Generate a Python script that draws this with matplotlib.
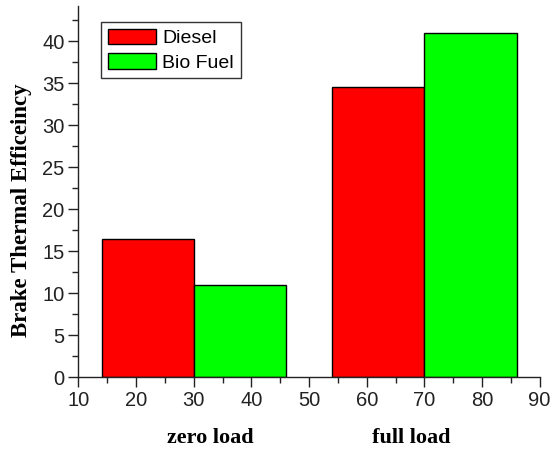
import matplotlib.pyplot as plt
import numpy as np
from matplotlib.ticker import MultipleLocator

# data
groups = ["zero load", "full load"]
group_left = [14, 54]          # left edge of the Diesel bar in each group
bar_width = 16
diesel = [16.5, 34.6]
bio_fuel = [11.0, 41.0]
series_names = ["Diesel", "Bio Fuel"]
series_colors = ["#FF0000", "#00FF00"]
group_label_x = [32.8, 67.7]

plt.rcParams["font.family"] = ["Liberation Sans", "DejaVu Sans"]

fig = plt.figure(figsize=(5.5, 4.5), dpi=100)
ax = fig.add_axes([0.1427, 0.1616, 0.8385, 0.825])

left = np.array(group_left, dtype=float)
ax.bar(left, diesel, width=bar_width, align="edge", color=series_colors[0],
       edgecolor="black", linewidth=1.0, label=series_names[0])
ax.bar(left + bar_width, bio_fuel, width=bar_width, align="edge", color=series_colors[1],
       edgecolor="black", linewidth=1.0, label=series_names[1])

ax.set_xlim(10, 90)
ax.set_ylim(0, 44.2)
ax.xaxis.set_major_locator(MultipleLocator(10))
ax.xaxis.set_minor_locator(MultipleLocator(5))
ax.yaxis.set_major_locator(MultipleLocator(5))
ax.yaxis.set_minor_locator(MultipleLocator(2.5))

for side in ["top", "right"]:
    ax.spines[side].set_visible(False)
for side in ["left", "bottom"]:
    ax.spines[side].set_color("#222222")
    ax.spines[side].set_linewidth(1.0)

ax.tick_params(axis="both", which="major", direction="out", length=7, width=1,
               labelsize=14.5, colors="#222222", pad=3)
ax.tick_params(axis="both", which="minor", direction="out", length=4, width=1,
               colors="#222222")

ax.set_ylabel("Brake Thermal Efficeincy", family=["Liberation Serif"], fontweight="bold",
              fontsize=16.5)
ax.yaxis.set_label_coords(-0.101, 0.45)
for name, gx in zip(groups, group_label_x):
    ax.text(gx, -0.1365, name, transform=ax.get_xaxis_transform(), ha="center", va="top",
            family=["Liberation Serif"], fontweight="bold", fontsize=16)

leg = ax.legend(loc="upper left", bbox_to_anchor=(0.0488, 0.957), fontsize=14,
                frameon=True, fancybox=False, edgecolor="black", handlelength=2.5,
                handleheight=0.85, borderpad=0.35, labelspacing=0.3, handletextpad=0.3,
                borderaxespad=0)
leg.get_frame().set_linewidth(1.0)

fig.savefig("out.png", dpi=100)
